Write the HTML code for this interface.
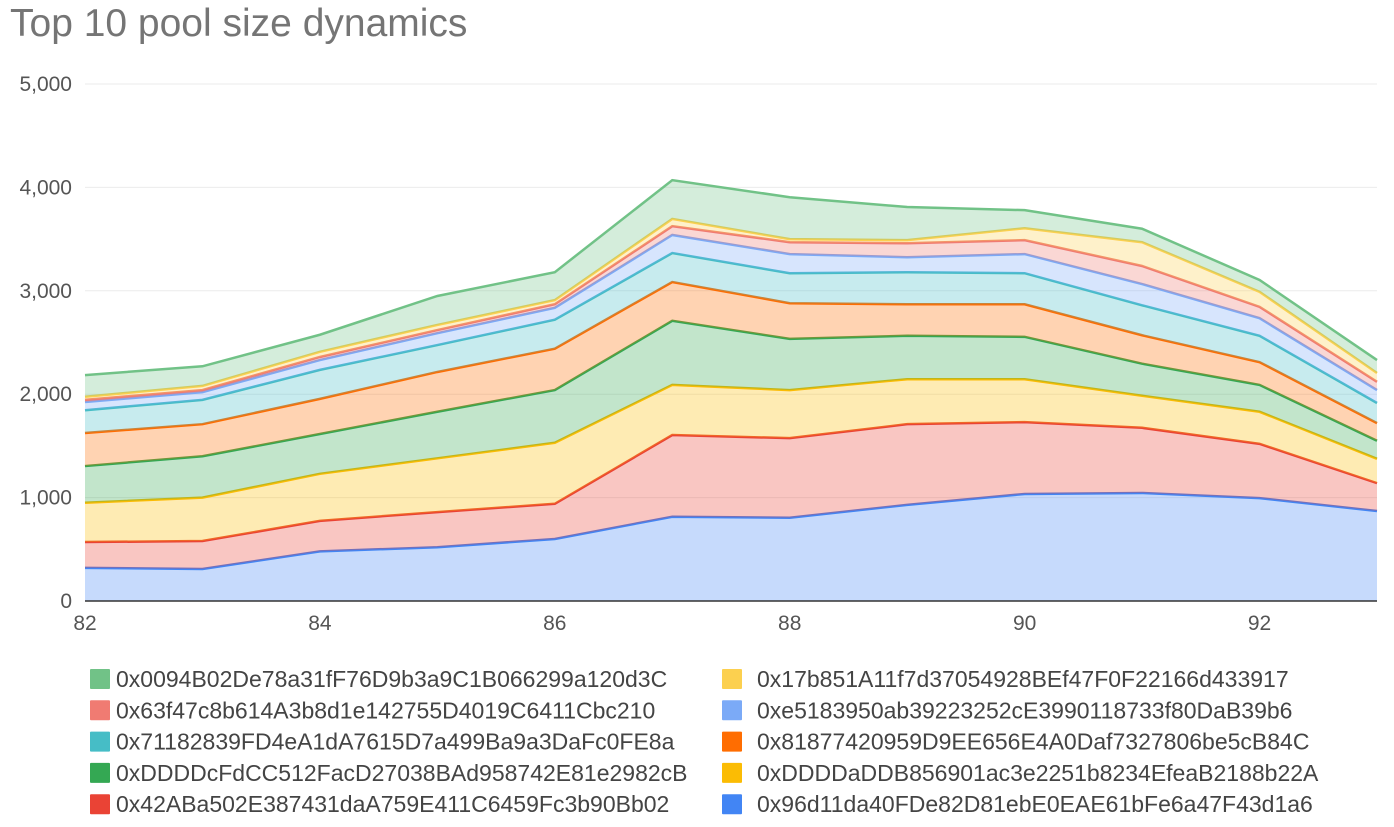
<!DOCTYPE html>
<html><head><meta charset="utf-8"><style>
body{margin:0;background:#fff;width:1394px;height:822px;overflow:hidden;font-family:"Liberation Sans",Arial,sans-serif}
</style></head><body>
<svg id="chart" width="1394" height="822" xmlns="http://www.w3.org/2000/svg">
<text x="10" y="36" font-size="39" fill="#757575" font-family="Liberation Sans, Arial, sans-serif">Top 10 pool size dynamics</text>
<g id="grid"></g><g id="areas"></g><g id="axes"></g><g id="legend"></g>
</svg>
<script>
const categories=[82,83,84,85,86,87,88,89,90,91,92,93];
const yTicks=[0,1000,2000,3000,4000,5000];
const xTicks=[82,84,86,88,90,92];
const seriesNames=["0x96d11da40FDe82D81ebE0EAE61bFe6a47F43d1a6","0x42ABa502E387431daA759E411C6459Fc3b90Bb02","0xDDDDaDDB856901ac3e2251b8234EfeaB2188b22A","0xDDDDcFdCC512FacD27038BAd958742E81e2982cB","0x81877420959D9EE656E4A0Daf7327806be5cB84C","0x71182839FD4eA1dA7615D7a499Ba9a3DaFc0FE8a","0xe5183950ab39223252cE3990118733f80DaB39b6","0x63f47c8b614A3b8d1e142755D4019C6411Cbc210","0x17b851A11f7d37054928BEf47F0F22166d433917","0x0094B02De78a31fF76D9b3a9C1B066299a120d3C"];
const colors=["#4285f4","#ea4335","#fbbc04","#34a853","#ff6d01","#46bdc6","#7baaf7","#f07b72","#fcd04f","#71c287"];
const s0=[320,310,480,520,600,815,805,930,1035,1045,995,870];
const s1=[250,270,295,340,340,790,770,780,695,630,525,270];
const s2=[380,420,455,520,590,485,465,435,415,310,310,235];
const s3=[355,400,385,450,510,620,495,420,410,310,260,175];
const s4=[320,310,340,385,400,375,345,305,315,275,220,170];
const s5=[220,235,280,260,280,280,290,310,300,290,255,195];
const s6=[80,75,95,115,115,175,185,145,185,205,170,125];
const s7=[20,20,30,30,35,85,115,135,135,175,110,80];
const s8=[30,40,50,50,40,70,30,30,115,230,145,85];
const s9=[210,190,165,280,270,375,405,320,175,130,115,125];
const series=[s0,s1,s2,s3,s4,s5,s6,s7,s8,s9];
const NS="http://www.w3.org/2000/svg";
const x=v=>85+(v-82)*(1377-85)/11;
const y=v=>601-v*(601-84)/5000;
function mk(t,a,p){const e=document.createElementNS(NS,t);for(const k in a)e.setAttribute(k,a[k]);p.appendChild(e);return e;}
const grid=document.getElementById('grid'),axes=document.getElementById('axes'),areas=document.getElementById('areas'),legend=document.getElementById('legend');
yTicks.forEach(t=>{
 if(t>0){const g=mk('line',{x1:85,x2:1377,y1:y(t),y2:y(t),stroke:'#ebebeb','stroke-width':1},grid);
 
 }
 const l=mk('text',{x:72,y:y(t)+7,'text-anchor':'end','font-size':21,fill:'#555'},axes);
 
 
 l.textContent=t.toLocaleString('en-US');
});
xTicks.forEach(t=>{
 const l=mk('text',{x:x(t),y:630,'text-anchor':'middle','font-size':21,fill:'#555'},axes);
 
 
 l.textContent=t;
});
let base=categories.map(()=>0);
series.forEach((s,i)=>{
 const top=base.map((b,j)=>b+s[j]);
 let d='M'+categories.map((c,j)=>x(c)+','+y(top[j])).join('L');
 for(let j=categories.length-1;j>=0;j--)d+='L'+x(categories[j])+','+y(base[j]);
 d+='Z';
 const a=mk('path',{d:d,fill:colors[i],'fill-opacity':0.3,stroke:'none'},areas);
 
 
 const ln=mk('polyline',{points:categories.map((c,j)=>x(c)+','+y(top[j])).join(' '),fill:'none',stroke:colors[i],'stroke-width':2.5},areas);
 
 
 base=top;
});
const ax=mk('line',{x1:85,x2:1377,y1:601,y2:601,stroke:'#333','stroke-width':1.5},axes);


const order=[9,8,7,6,5,4,3,2,1,0];
order.forEach((si,k)=>{
 const col=k%2,row=Math.floor(k/2);
 const bx=col?722:90,tx=col?757:116,cy=679+row*31.3;
 const g=mk('g',{},legend);
 
 
 mk('rect',{x:bx,y:cy-10,width:20,height:20,fill:colors[si],rx:1},g);
 const t=mk('text',{x:tx,y:cy+8,'font-size':23,fill:'#444'},g);
 t.textContent=seriesNames[si];
});
</script>
</body></html>
